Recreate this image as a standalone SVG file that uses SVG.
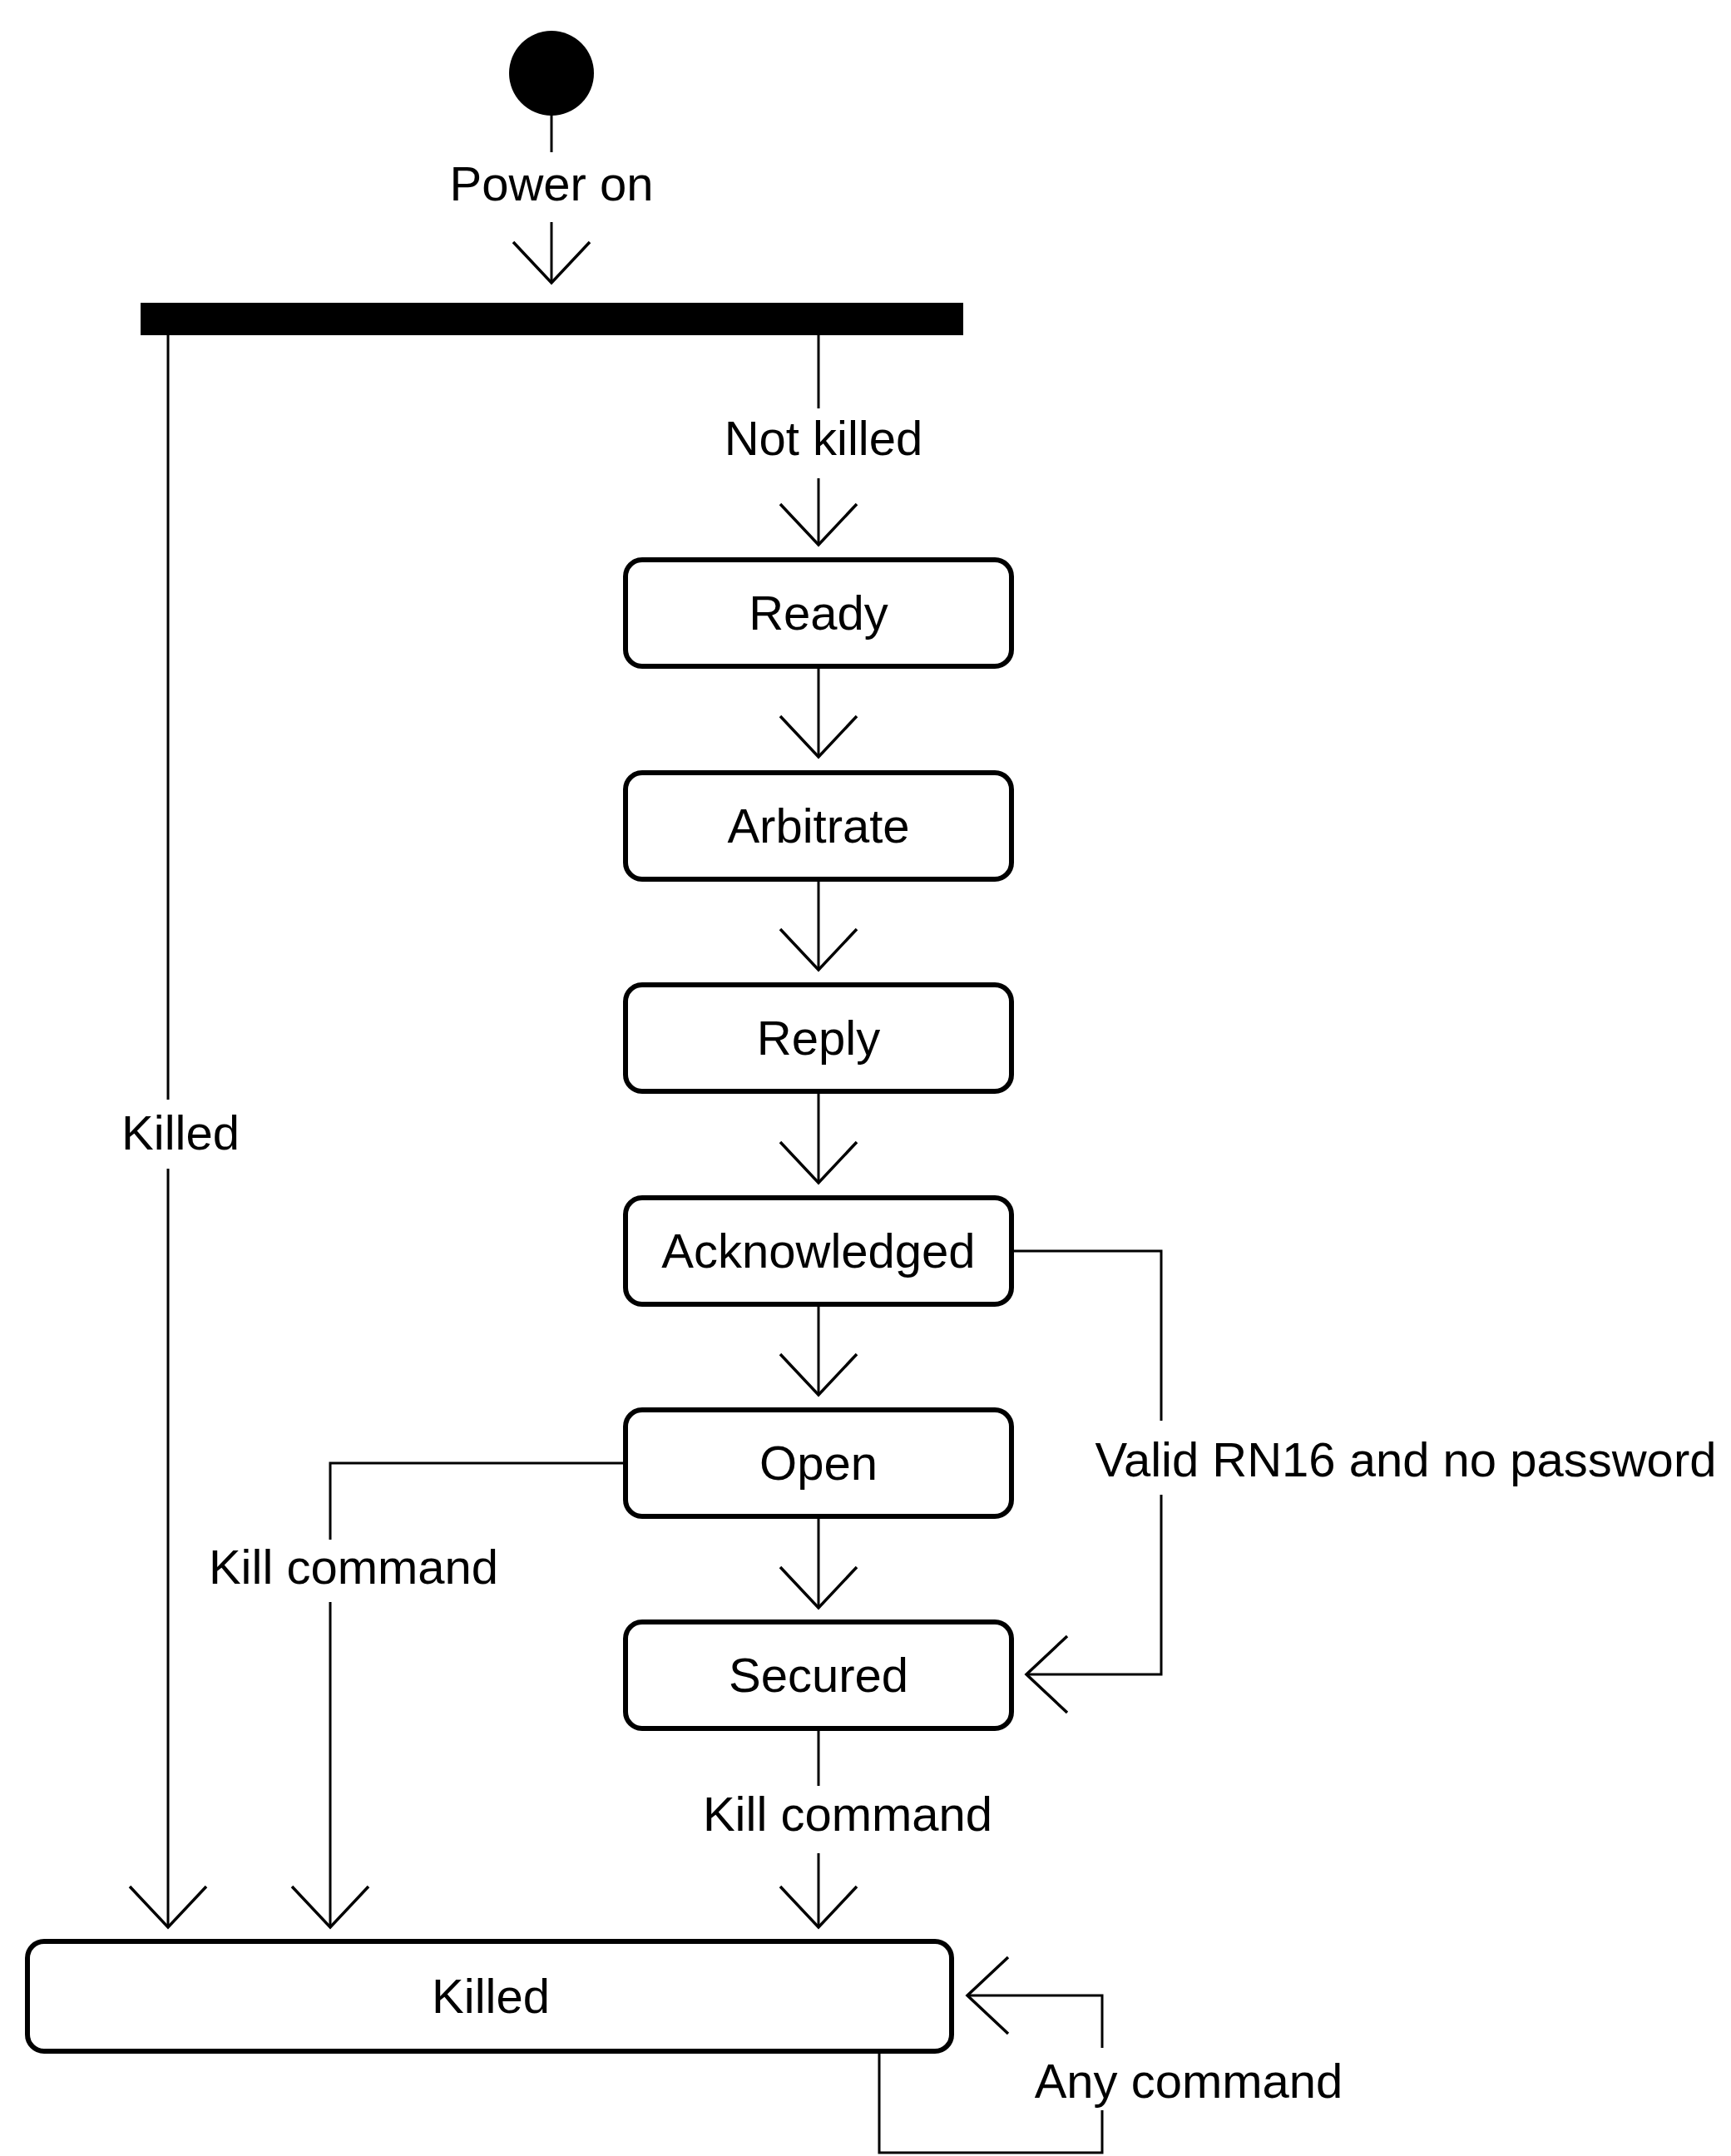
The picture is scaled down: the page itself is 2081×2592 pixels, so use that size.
<svg xmlns="http://www.w3.org/2000/svg" width="2081" height="2592" viewBox="0 0 2081 2592">
  <style>
    .state { fill: #ffffff; stroke: #000000; stroke-width: 6; }
    .edge { fill: none; stroke: #000000; stroke-width: 3; }
    .lbl { font-family: "Liberation Sans", Arial, sans-serif; font-size: 58px; fill: #000000; text-anchor: middle; }
  </style>
  <defs>
    <marker id="open-arrow" viewBox="-54 -50 60 100" refX="0" refY="0" markerWidth="60" markerHeight="100" orient="auto" markerUnits="userSpaceOnUse">
      <path d="M-49,-46 L0,0 L-49,46" fill="none" stroke="#000000" stroke-width="3.5"/>
    </marker>
  </defs>
  <rect x="0" y="0" width="2081" height="2592" fill="#ffffff"/>

  <!-- initial pseudo-state -->
  <g id="initial">
    <circle cx="663" cy="88" r="51" fill="#000000"/>
  </g>

  <!-- fork bar -->
  <g id="fork">
    <rect x="169" y="364" width="989" height="39" fill="#000000"/>
  </g>

  <g id="state-ready">
    <rect class="state" x="752" y="673" width="464" height="128" rx="20"/>
    <text class="lbl" x="984" y="757">Ready</text>
  </g>
  <g id="state-arbitrate">
    <rect class="state" x="752" y="929" width="464" height="128" rx="20"/>
    <text class="lbl" x="984" y="1013">Arbitrate</text>
  </g>
  <g id="state-reply">
    <rect class="state" x="752" y="1184" width="464" height="128" rx="20"/>
    <text class="lbl" x="984" y="1268">Reply</text>
  </g>
  <g id="state-acknowledged">
    <rect class="state" x="752" y="1440" width="464" height="128" rx="20"/>
    <text class="lbl" x="984" y="1524">Acknowledged</text>
  </g>
  <g id="state-open">
    <rect class="state" x="752" y="1695" width="464" height="128" rx="20"/>
    <text class="lbl" x="984" y="1779">Open</text>
  </g>
  <g id="state-secured">
    <rect class="state" x="752" y="1950" width="464" height="128" rx="20"/>
    <text class="lbl" x="984" y="2034">Secured</text>
  </g>
  <g id="state-killed">
    <rect class="state" x="33" y="2334" width="1111" height="132" rx="20"/>
    <text class="lbl" x="590" y="2420">Killed</text>
  </g>

  <g id="connectors">
    <!-- power on -->
    <line class="edge" x1="663" y1="136" x2="663" y2="183"/>
    <line class="edge" x1="663" y1="267" x2="663" y2="340" marker-end="url(#open-arrow)"/>
    <text class="lbl" x="663" y="241">Power on</text>

    <!-- not killed -->
    <line class="edge" x1="984" y1="403" x2="984" y2="491"/>
    <line class="edge" x1="984" y1="575" x2="984" y2="655" marker-end="url(#open-arrow)"/>
    <text class="lbl" x="990" y="547">Not killed</text>

    <!-- killed (from fork) -->
    <line class="edge" x1="202" y1="403" x2="202" y2="1322"/>
    <line class="edge" x1="202" y1="1405" x2="202" y2="2317" marker-end="url(#open-arrow)"/>
    <text class="lbl" x="217" y="1382">Killed</text>

    <!-- main chain -->
    <line class="edge" x1="984" y1="804" x2="984" y2="910" marker-end="url(#open-arrow)"/>
    <line class="edge" x1="984" y1="1060" x2="984" y2="1166" marker-end="url(#open-arrow)"/>
    <line class="edge" x1="984" y1="1315" x2="984" y2="1422" marker-end="url(#open-arrow)"/>
    <line class="edge" x1="984" y1="1571" x2="984" y2="1677" marker-end="url(#open-arrow)"/>
    <line class="edge" x1="984" y1="1826" x2="984" y2="1933" marker-end="url(#open-arrow)"/>

    <!-- open: kill command -->
    <polyline class="edge" points="752,1759 397,1759 397,1851"/>
    <line class="edge" x1="397" y1="1926" x2="397" y2="2317" marker-end="url(#open-arrow)"/>
    <text class="lbl" x="425" y="1904">Kill command</text>

    <!-- acknowledged: valid RN16 and no password -->
    <polyline class="edge" points="1219,1504 1396,1504 1396,1708"/>
    <polyline class="edge" points="1396,1797 1396,2013 1234,2013" marker-end="url(#open-arrow)"/>
    <text class="lbl" x="1690" y="1775">Valid RN16 and no password</text>

    <!-- secured: kill command -->
    <line class="edge" x1="984" y1="2081" x2="984" y2="2147"/>
    <line class="edge" x1="984" y1="2228" x2="984" y2="2317" marker-end="url(#open-arrow)"/>
    <text class="lbl" x="1019" y="2201">Kill command</text>

    <!-- killed: any command self-loop -->
    <polyline class="edge" points="1325,2537 1325,2588 1057,2588 1057,2469"/>
    <polyline class="edge" points="1325,2462 1325,2399 1163,2399" marker-end="url(#open-arrow)"/>
    <text class="lbl" x="1429" y="2522">Any command</text>
  </g>
</svg>
